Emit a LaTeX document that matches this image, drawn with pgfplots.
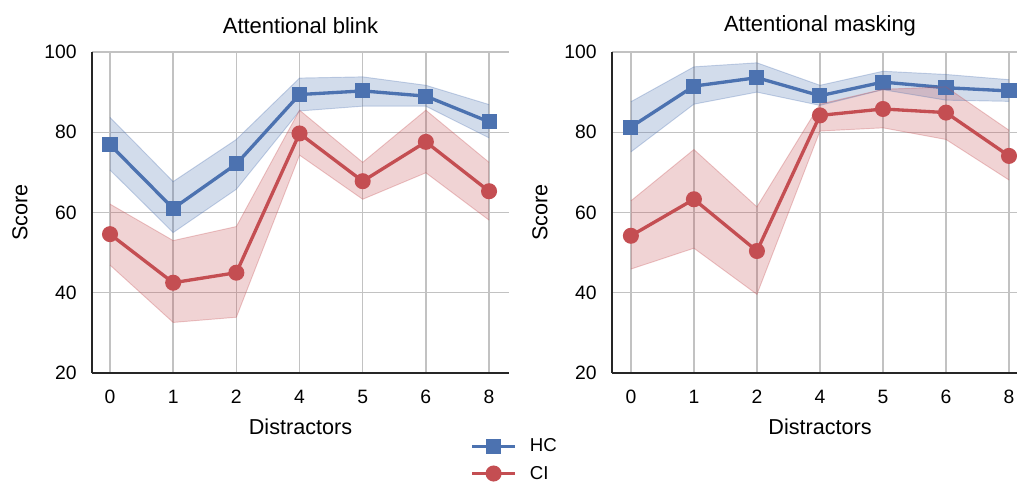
\documentclass[border=0pt]{standalone}
\usepackage{fontspec}
\setmainfont{Liberation Sans}
\usepackage{pgfplots}
\usepackage{pgfplotstable}
\pgfplotsset{compat=1.18}
\usepgfplotslibrary{fillbetween}

\definecolor{hcblue}{RGB}{76,114,176}
\definecolor{cired}{RGB}{196,78,82}

% x = category index; labels 0,1,2,4,5,6,8 distractors
\pgfplotstableread{
x hc hclo hchi ci cilo cihi
0 76.9 70.6 83.7 54.6 46.9 62.1
1 61.0 55.0 67.7 42.5 32.6 53.0
2 72.1 65.8 78.2 45.0 33.9 56.5
3 89.4 85.3 93.5 79.7 74.3 85.5
4 90.3 86.5 93.8 67.8 63.3 72.5
5 89.0 86.5 91.7 77.6 69.9 85.5
6 82.6 78.6 86.9 65.3 58.1 72.5
}\blink

\pgfplotstableread{
x hc hclo hchi ci cilo cihi
0 81.3 75.1 87.6 54.2 45.9 62.9
1 91.5 87.0 96.3 63.3 51.1 75.7
2 93.6 90.0 97.3 50.4 39.6 61.4
3 89.1 86.7 91.7 84.2 80.3 87.0
4 92.5 90.6 95.2 85.8 81.1 90.7
5 91.1 88.0 94.4 84.9 78.2 91.3
6 90.3 87.7 93.1 74.1 68.1 80.5
}\masking

\pgfplotsset{
  panel/.style={
    scale only axis, height=240.75pt,
    ymin=20, ymax=100, ytick={20,40,...,100},
    xtick={0,...,6}, xticklabels={0,1,2,4,5,6,8},
    axis lines*=left,
    axis line style={-, line width=1.75pt, black!85},
    major tick length=0pt,
    grid=major, major grid style={line width=1.1pt, black!24},
    /pgf/number format/assume math mode=true,
    tick label style={font=\fontsize{14.5}{16}\selectfont},
    xticklabel style={yshift=-9.5pt},
    yticklabel style={xshift=-8pt},
    every axis title shift=0pt,
    title style={font=\fontsize{16.5}{19}\selectfont, anchor=center, yshift=19.9pt},
    every axis x label/.style={anchor=center, yshift=-40.5pt,
      font=\fontsize{16.2}{19}\selectfont},
    every axis y label/.style={anchor=center, rotate=90,
      font=\fontsize{16.2}{19}\selectfont},
    xlabel={Distractors}, ylabel={Score},
    clip marker paths=true,
  },
  bandedge/.style={draw=#1, draw opacity=0.3, line width=0.7pt, forget plot},
  bandfill/.style={fill=#1, fill opacity=0.25, draw=none, forget plot},
  hcline/.style={hcblue, line width=2.5pt, mark=square*, mark size=4.4pt},
  ciline/.style={cired, line width=2.5pt, mark=*, mark size=4.75pt},
}

\begin{document}
\begin{tikzpicture}
\begin{axis}[
  panel, width=312.75pt,
  xmin=-0.285, xmax=6.316,
  title={Attentional blink},
  title style={at={(axis description cs:0.5,1)}},
  xlabel style={at={(axis description cs:0.5,0)}},
  ylabel style={at={(axis description cs:-0.1727,0.5)}},
  legend style={draw=none, fill=none, inner sep=0pt,
    at={(axis description cs:0.9073,-0.271)}, anchor=west,
    font=\fontsize{14}{16}\selectfont, row sep=5pt, column sep=8pt,
    nodes={inner sep=2pt}},
  legend cell align=left,
  legend image code/.code={\draw[mark repeat=2, mark phase=2]
    plot coordinates {(0pt,0pt)(16pt,0pt)(32pt,0pt)};},
]
\addplot[bandedge=hcblue, name path=bhu] table[x=x, y=hchi] {\blink};
\addplot[bandedge=hcblue, name path=bhl] table[x=x, y=hclo] {\blink};
\addplot[bandfill=hcblue] fill between[of=bhu and bhl];
\addplot[hcline] table[x=x, y=hc] {\blink};
\addplot[bandedge=cired, name path=bcu] table[x=x, y=cihi] {\blink};
\addplot[bandedge=cired, name path=bcl] table[x=x, y=cilo] {\blink};
\addplot[bandfill=cired] fill between[of=bcu and bcl];
\addplot[ciline] table[x=x, y=ci] {\blink};
\legend{HC, CI}
\end{axis}

\begin{axis}[
  panel, width=303.75pt, at={(390pt,0pt)},
  xmin=-0.3, xmax=6.127,
  title={Attentional masking},
  title style={at={(axis description cs:0.5136,1)}},
  xlabel style={at={(axis description cs:0.5136,0)}},
  ylabel style={at={(axis description cs:-0.1778,0.5)}},
]
\addplot[bandedge=hcblue, name path=mhu] table[x=x, y=hchi] {\masking};
\addplot[bandedge=hcblue, name path=mhl] table[x=x, y=hclo] {\masking};
\addplot[bandfill=hcblue] fill between[of=mhu and mhl];
\addplot[hcline] table[x=x, y=hc] {\masking};
\addplot[bandedge=cired, name path=mcu] table[x=x, y=cihi] {\masking};
\addplot[bandedge=cired, name path=mcl] table[x=x, y=cilo] {\masking};
\addplot[bandfill=cired] fill between[of=mcu and mcl];
\addplot[ciline] table[x=x, y=ci] {\masking};
\end{axis}

\pgfresetboundingbox
\path[use as bounding box] (-69pt,-81.75pt) rectangle (693.75pt,279.75pt);
\end{tikzpicture}
\end{document}
